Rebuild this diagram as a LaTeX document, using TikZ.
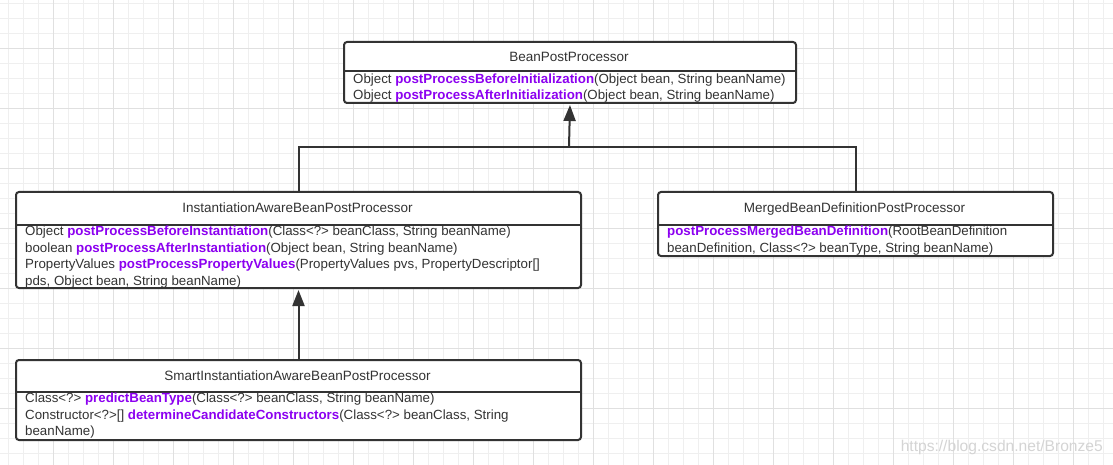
\documentclass[tikz,border=0pt]{standalone}
\usepackage{fontspec}
\setmainfont{Liberation Sans}
\usetikzlibrary{arrows.meta}
\definecolor{ink}{HTML}{333333}
\definecolor{meth}{RGB}{140,0,240}
\definecolor{gridminor}{HTML}{EFEFEF}
\definecolor{gridmajor}{HTML}{E0E0E0}
\definecolor{wmark}{HTML}{D4D4D4}
\newcommand\meth[1]{{\bfseries\color{meth}#1}}
\begin{document}
\begin{tikzpicture}[x=1pt,y=-1pt,
  umlbox/.style={draw=ink, line width=2pt, rounded corners=3pt, fill=white, inner sep=0pt, anchor=north west},
  divider/.style={draw=ink, line width=2pt},
  title/.style={inner sep=0pt, text=ink, font=\fontsize{13.5}{16}\selectfont, text height=9.6pt, text depth=0pt, anchor=center},
  bodyline/.style={inner sep=0pt, text=ink, font=\fontsize{13.3}{16}\selectfont, anchor=base west},
  conn/.style={draw=ink, line width=2pt},
  inh/.style={conn, -{Triangle[length=16pt,width=12pt]}}]
\useasboundingbox (0,0) rectangle (1113,465);
\fill[white] (0,0) rectangle (1113,465);
% grid
\foreach \x in {8.5,23.5,...,1113} \draw[gridminor, line width=1pt] (\x,0) -- (\x,465);
\foreach \y in {3.5,18.5,...,465} \draw[gridminor, line width=1pt] (0,\y) -- (1113,\y);
\foreach \x in {53.5,113.5,...,1113} \draw[gridmajor, line width=1pt] (\x,0) -- (\x,465);
\foreach \y in {48.5,108.5,...,465} \draw[gridmajor, line width=1pt] (0,\y) -- (1113,\y);

% BeanPostProcessor
\node[umlbox, minimum width=452pt, minimum height=61pt] (b1) at (343,41) {};
\draw[divider] (343,71.5) -- (795,71.5);
\node[title] (b1t) at (569,56.5) {BeanPostProcessor};
\node[bodyline] (b1a) at (353,83.2) {Object \meth{postProcessBeforeInitialization}(Object bean, String beanName)};
\node[bodyline] (b1b) at (353,99.6) {Object \meth{postProcessAfterInitialization}(Object bean, String beanName)};

% InstantiationAwareBeanPostProcessor
\node[umlbox, minimum width=565pt, minimum height=96pt] (b2) at (15,191) {};
\draw[divider] (15,225) -- (580,225);
\node[title] (b2t) at (297.5,208) {InstantiationAwareBeanPostProcessor};
\node[bodyline] (b2a) at (25,235.7) {Object \meth{postProcessBeforeInstantiation}(Class<?> beanClass, String beanName)};
\node[bodyline] (b2b) at (25,252.2) {boolean \meth{postProcessAfterInstantiation}(Object bean, String beanName)};
\node[bodyline] (b2c) at (25,268.7) {PropertyValues \meth{postProcessPropertyValues}(PropertyValues pvs, PropertyDescriptor[]};
\node[bodyline] (b2d) at (25,285.2) {pds, Object bean, String beanName)};

% MergedBeanDefinitionPostProcessor
\node[umlbox, minimum width=395pt, minimum height=64pt] (b3) at (657,191) {};
\draw[divider] (657,225) -- (1052,225);
\node[title] (b3t) at (854.5,208) {MergedBeanDefinitionPostProcessor};
\node[bodyline] (b3a) at (667,235.7) {\meth{postProcessMergedBeanDefinition}(RootBeanDefinition};
\node[bodyline] (b3b) at (667,252.2) {beanDefinition, Class<?> beanType, String beanName)};

% SmartInstantiationAwareBeanPostProcessor
\node[umlbox, minimum width=565pt, minimum height=80pt] (b4) at (15,359) {};
\draw[divider] (15,392) -- (580,392);
\node[title] (b4t) at (297.5,375.5) {SmartInstantiationAwareBeanPostProcessor};
\node[bodyline] (b4a) at (25,402.7) {Class<?> \meth{predictBeanType}(Class<?> beanClass, String beanName)};
\node[bodyline] (b4b) at (25,419.2) {Constructor<?>[] \meth{determineCandidateConstructors}(Class<?> beanClass, String};
\node[bodyline] (b4c) at (25,435.7) {beanName)};

% connectors
\coordinate (j) at (569,147);
\draw[conn] (b2.north) -- (b2.north |- j) -- (b3.north |- j) -- (b3.north);
\draw[inh, shorten >=1pt] (j) -- (b1.south);
\draw[inh, shorten >=1pt] (b4.north) -- (b2.south);

% watermark
\node[inner sep=0pt, anchor=base east, text=wmark, font=\fontsize{15.6}{18}\selectfont] (wm) at (1103,451) {https://blog.csdn.net/Bronze5};
\end{tikzpicture}
\end{document}
